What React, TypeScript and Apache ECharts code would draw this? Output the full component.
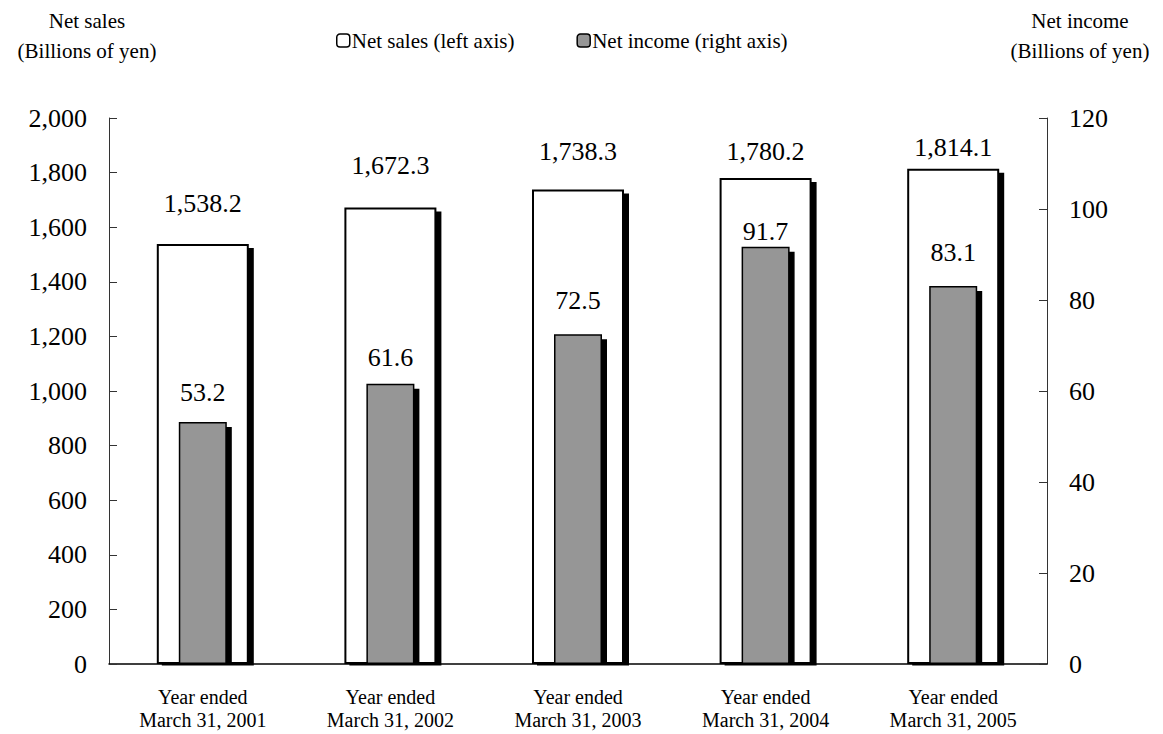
import React, { useEffect, useRef } from "react";
import * as echarts from "echarts";

const categories = [
  "Year ended\nMarch 31, 2001",
  "Year ended\nMarch 31, 2002",
  "Year ended\nMarch 31, 2003",
  "Year ended\nMarch 31, 2004",
  "Year ended\nMarch 31, 2005",
];
const netSales = [1538.2, 1672.3, 1738.3, 1780.2, 1814.1];
const netIncome = [53.2, 61.6, 72.5, 91.7, 83.1];
const salesLabelDistance = [28, 29, 25, 14, 8];
const incomeLabelDistance = [16, 13, 21, 2, 20];

const FONT = "Liberation Serif";

export default function App() {
  const ref = useRef<HTMLDivElement>(null);
  useEffect(() => {
    document.body.style.margin = "0";
    const chart = echarts.init(ref.current!, null, { renderer: "svg" });
    const fmt1 = (v: number) =>
      v.toLocaleString("en-US", { minimumFractionDigits: 1, maximumFractionDigits: 1 });
    chart.setOption({
      animation: false,
      textStyle: { fontFamily: FONT, color: "#000" },
      legend: {
        left: 331,
        top: 25,
        itemWidth: 13,
        itemHeight: 13,
        itemGap: 62,
        textStyle: { fontSize: 21, fontFamily: FONT, color: "#000", padding: [0, 0, 0, -3] },
        itemStyle: { shadowColor: "transparent", shadowOffsetX: 0, shadowOffsetY: 0, borderWidth: 1.5, borderColor: "#000" },
        data: ["Net sales (left axis)", "Net income (right axis)"],
      },
      graphic: [
        {
          type: "text",
          x: 87,
          y: 6,
          style: {
            text: "Net sales\n(Billions of yen)",
            fontSize: 21,
            fontFamily: FONT,
            fill: "#000",
            align: "center",
            lineHeight: 30,
          },
        },
        {
          type: "text",
          x: 1080,
          y: 6,
          style: {
            text: "Net income\n(Billions of yen)",
            fontSize: 21,
            fontFamily: FONT,
            fill: "#000",
            align: "center",
            lineHeight: 30,
          },
        },
        {
          type: "rect",
          z: 100,
          shape: { x: 100, y: 665.5, width: 960, height: 8 },
          style: { fill: "#fff" },
        },
      ],
      grid: { left: 109, right: 116, top: 118, bottom: 70 },
      xAxis: [
        {
          type: "category",
          data: categories,
          axisLine: { lineStyle: { color: "#000", width: 1.5 } },
          axisTick: { inside: true, length: 6, lineStyle: { color: "#555" } },
          axisLabel: { fontSize: 20, fontFamily: FONT, color: "#000", lineHeight: 23, margin: 21 },
        },
        {
          type: "category",
          data: categories,
          show: false,
        },
      ],
      yAxis: [
        {
          type: "value",
          min: 0,
          max: 2000,
          interval: 200,
          splitLine: { show: false },
          axisLine: { show: true, lineStyle: { color: "#333" } },
          axisTick: { show: true, inside: true, length: 8, lineStyle: { color: "#333" } },
          axisLabel: {
            fontSize: 26,
            fontFamily: FONT,
            color: "#000",
            margin: 22,
            formatter: (v: number) => v.toLocaleString("en-US"),
          },
        },
        {
          type: "value",
          min: 0,
          max: 120,
          interval: 20,
          position: "right",
          splitLine: { show: false },
          axisLine: { show: true, lineStyle: { color: "#333" } },
          axisTick: { show: true, inside: true, length: 8, lineStyle: { color: "#333" } },
          axisLabel: { fontSize: 26, fontFamily: FONT, color: "#000", margin: 22 },
        },
      ],
      series: [
        {
          name: "Net sales (left axis)",
          type: "bar",
          xAxisIndex: 0,
          yAxisIndex: 0,
          barWidth: 92,
          itemStyle: {
            color: "#fff",
            borderColor: "#000",
            borderWidth: 2,
            shadowColor: "#000",
            shadowBlur: 0,
            shadowOffsetX: 5,
            shadowOffsetY: 4,
          },
          data: netSales.map((v, i) => ({
            value: v,
            label: { distance: salesLabelDistance[i] },
          })),
          label: {
            show: true,
            position: "top",
            fontSize: 26,
            fontFamily: FONT,
            color: "#000",
            formatter: (p: any) => fmt1(p.value),
          },
          z: 2,
        },
        {
          name: "Net income (right axis)",
          type: "bar",
          xAxisIndex: 1,
          yAxisIndex: 1,
          barWidth: 48,
          itemStyle: {
            color: "#969696",
            borderColor: "#000",
            borderWidth: 1.5,
            shadowColor: "#000",
            shadowBlur: 0,
            shadowOffsetX: 5,
            shadowOffsetY: 5,
          },
          data: netIncome.map((v, i) => ({
            value: v,
            label: { distance: incomeLabelDistance[i] },
          })),
          label: {
            show: true,
            position: "top",
            fontSize: 26,
            fontFamily: FONT,
            color: "#000",
            formatter: (p: any) => fmt1(p.value),
          },
          z: 3,
        },
      ],
    });
    return () => chart.dispose();
  }, []);
  return <div ref={ref} style={{ width: 1163, height: 734 }} />;
}
